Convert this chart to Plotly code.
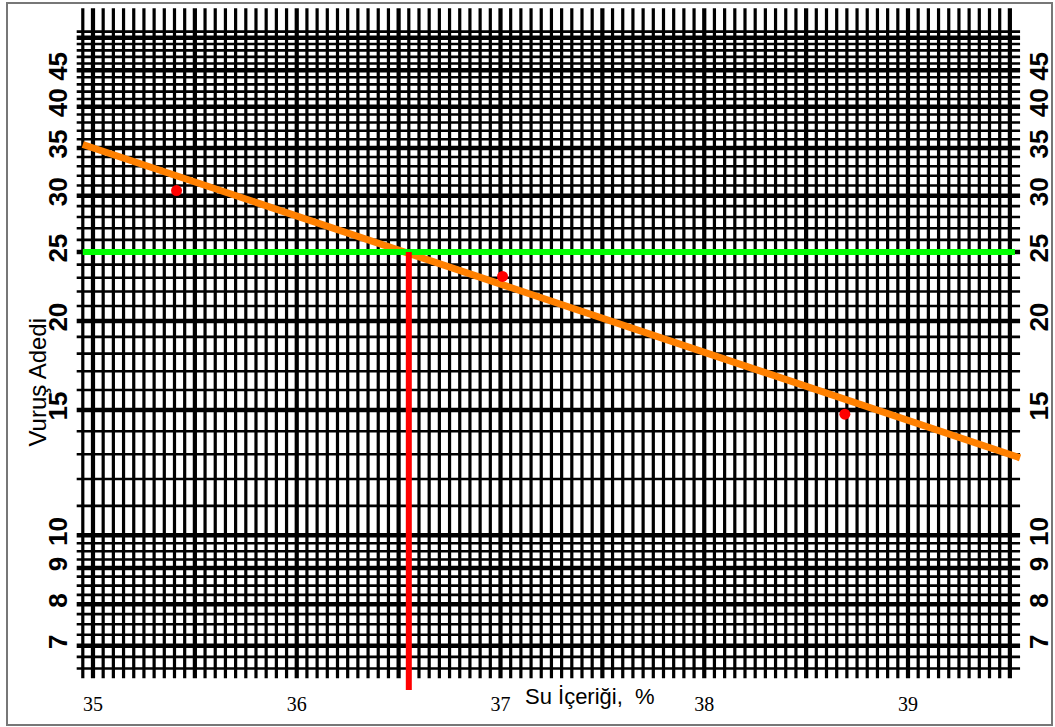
import numpy as np
import plotly.graph_objects as go

# ---------------- data ----------------
water_content = [35.41, 37.01, 38.69]          # %
blow_count = [30.5, 23.1, 14.8]                # Vuruş adedi
fit_x = [34.95, 39.55]                          # flow line ends
fit_y = [35.4, 12.85]
target_blows = 25
liquid_limit = 36.55

x_ticks = [35, 36, 37, 38, 39]
y_ticks = [7, 8, 9, 10, 15, 20, 25, 30, 35, 40, 45]

# graph-paper grid values
vgrid = [round(34.95 + 0.05 * k, 2) for k in range(92)]          # 34.95 .. 39.50
hgrid_low = [round(6.5 + 0.25 * k, 2) for k in range(15)]          # 6.5 .. 10
hgrid_high = list(range(11, 52))                                    # 11 .. 51

# ---------------- layout helpers ----------------
W, H = 1055, 727
L, R, T, B = 75, 34, 8, 37
PW, PH = W - L - R, H - T - B
def px(x):
    return (x - L) / PW
def py(y):
    return (H - B - y) / PH

XR = [34.9117, 39.5546]
YR = [0.7828, 1.7407]

fig = go.Figure()

def add_lines(segments, width, color="black"):
    xs, ys = [], []
    for (x0, x1, y0, y1) in segments:
        xs += [x0, x1, None]
        ys += [y0, y1, None]
    fig.add_trace(go.Scatter(x=xs, y=ys, mode="lines", line=dict(color=color, width=width),
                             hoverinfo="skip", showlegend=False))

# vertical grid lines
v_major = [v for v in vgrid if abs(v * 2 - round(v * 2)) < 1e-6]
v_minor = [v for v in vgrid if v not in v_major]
add_lines([(v, v, 6.3, 55) for v in v_minor], 3.2)
add_lines([(v, v, 6.3, 55) for v in v_major], 4.2)

# horizontal grid lines
h_all = sorted(set(hgrid_low + hgrid_high))
h_major = [h for h in h_all if h in (7, 8, 9, 10) or (h >= 10 and h % 5 == 0)]
h_minor = [h for h in h_all if h not in h_major]
add_lines([(34.92, 39.55, h, h) for h in h_minor], 2.6)
add_lines([(34.92, 39.55, h, h) for h in h_major], 4.5)

# flow line
fig.add_trace(go.Scatter(x=fit_x, y=fit_y, mode="lines",
                         line=dict(color="#FF8000", width=7), showlegend=False))
# 25 blows line
fig.add_trace(go.Scatter(x=[vgrid[0], 39.525], y=[target_blows, target_blows], mode="lines",
                         line=dict(color="#00FF00", width=6), showlegend=False))
# liquid limit line
fig.add_trace(go.Scatter(x=[liquid_limit, liquid_limit], y=[target_blows, 10 ** YR[0]], mode="lines",
                         line=dict(color="#FF0000", width=6), showlegend=False))
# measured points
fig.add_trace(go.Scatter(x=water_content, y=blow_count, mode="markers",
                         marker=dict(color="#FF0000", size=11), showlegend=False))
# invisible trace for right axis
fig.add_trace(go.Scatter(x=[37], y=[20], yaxis="y2", mode="markers",
                         marker=dict(opacity=0), hoverinfo="skip", showlegend=False))

tick_font = dict(family="Liberation Sans, Arial", size=26, color="black", weight="bold")

fig.update_layout(
    width=W, height=H,
    margin=dict(l=L, r=R, t=T, b=B),
    paper_bgcolor="white", plot_bgcolor="white",
    xaxis=dict(range=XR, tickvals=x_ticks, ticktext=[str(v) for v in x_ticks], automargin=False,
               showgrid=False, zeroline=False, showline=False, ticks="",
               tickfont=dict(family="Liberation Serif, Times New Roman", size=20, color="black")),
    yaxis=dict(type="log", range=YR, tickvals=y_ticks, ticktext=[str(v) for v in y_ticks],
               tickangle=-90, showgrid=False, zeroline=False, showline=False, ticks="",
               tickfont=tick_font, ticklabelstandoff=2, automargin=False),
    yaxis2=dict(type="log", range=YR, overlaying="y", side="right", matches="y",
                tickvals=y_ticks, ticktext=[str(v) for v in y_ticks], automargin=False,
                tickangle=-90, showgrid=False, zeroline=False, showline=False, ticks="",
                tickfont=tick_font, ticklabelstandoff=0),
    annotations=[
        dict(text="Vuruş Adedi", xref="paper", yref="paper", x=px(22), y=py(382),
             textangle=-90, showarrow=False, font=dict(family="Liberation Sans, Arial", size=24, color="black")),
        dict(text="Su İçeriği,  %", xref="paper", yref="paper", x=px(590), y=py(711),
             showarrow=False, font=dict(family="Liberation Sans, Arial", size=22, color="black")),
    ],
    shapes=[
        dict(type="rect", xref="paper", yref="paper", x0=px(7), x1=px(1052), y0=py(725), y1=py(3),
             line=dict(color="#777777", width=2), fillcolor="rgba(0,0,0,0)", layer="below"),
    ],
)

fig.write_html("out.html")
